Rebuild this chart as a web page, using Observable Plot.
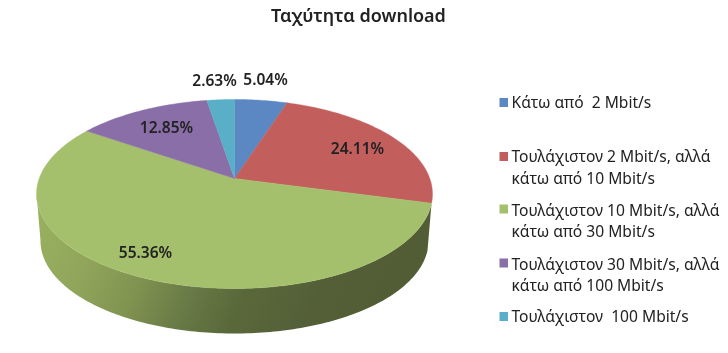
<!DOCTYPE html>
<html>
<head>
<meta charset="utf-8">
<script src="https://cdn.jsdelivr.net/npm/d3@7"></script>
<script src="https://cdn.jsdelivr.net/npm/@observablehq/plot@0.6"></script>
<style>html,body{margin:0;padding:0;background:#fff}svg{display:block}</style>
</head>
<body>
<div id="chart"></div>
<script>
const categories = ["Κάτω από  2 Mbit/s","Τουλάχιστον 2 Mbit/s, αλλά\nκάτω από 10 Mbit/s","Τουλάχιστον 10 Mbit/s, αλλά\nκάτω από 30 Mbit/s","Τουλάχιστον 30 Mbit/s, αλλά\nκάτω από 100 Mbit/s","Τουλάχιστον  100 Mbit/s"];
const values = [5.04, 24.11, 55.36, 12.85, 2.63];
const valueLabels = ["5.04%","24.11%","55.36%","12.85%","2.63%"];
const colors = ["#5b87c2","#c25f5d","#a5c06c","#8a6ea8","#58afc7"];
const labelX = [265, 357, 145, 166, 214];
const labelY = [80, 149, 253, 128, 81];
const legendY = [101, 165.5, 219, 273, 315];
const swatchY = [102.5, 156.5, 209, 263, 316.5];

// perspective-tilted disc
const cx = 234, cy = 178, A = 195.3, B = 92, K = 0.164;
const wallDrop = 47.2, wallScale = 0.98;
const pt = (deg, s = 1, drop = 0) => {
  const t = deg * Math.PI / 180, u = Math.sin(t), v = Math.cos(t), w = 1 + K * v;
  return {x: cx + s * A * u / w, y: cy + drop - s * B * v / w};
};
const total = d3.sum(values);
let acc = 0;
const slices = [];
values.forEach((val, i) => {
  const a0 = acc / total * 360; acc += val; const a1 = acc / total * 360;
  slices.push({x: cx, y: cy, cat: categories[i]});
  const n = Math.max(2, Math.ceil(a1 - a0));
  for (let j = 0; j <= n; j++) slices.push({...pt(a0 + (a1 - a0) * j / n), cat: categories[i]});
  slices.push({x: cx, y: cy, cat: categories[i]});
});
// front wall of the big slice
const wall = [];
const wa0 = values[0] / total * 360 + values[1] / total * 360, wa1 = 261;
for (let a = wa0; a <= wa1; a += 1) wall.push(pt(a));
for (let a = wa1; a >= wa0; a -= 1) wall.push(pt(a, wallScale, wallDrop));

const defs = () => {
  const d = d3.create("svg:defs");
  const g = d.append("linearGradient").attr("id", "wallGrad").attr("x1", 0).attr("y1", 0).attr("x2", 1).attr("y2", 0.15);
  [[0, "#9ab160"], [0.2, "#90a55a"], [0.35, "#7f9250"], [0.5, "#667845"], [0.62, "#596839"], [0.8, "#545f38"], [1, "#525d36"]]
    .forEach(([o, c]) => g.append("stop").attr("offset", o).attr("stop-color", c));
  return d.node();
};

const font = "'Noto Sans', sans-serif";
const legend = categories.map((c, i) => ({c, y: legendY[i], sy: swatchY[i]}));
const chart = Plot.plot({
  width: 728, height: 353, margin: 0,
  x: {domain: [0, 728], range: [0, 728], axis: null},
  y: {domain: [0, 353], range: [0, 353], axis: null},
  color: {domain: categories, range: colors},
  style: {background: "#fff", filter: "blur(0.35px)"},
  marks: [
    defs,
    Plot.line(wall, {x: "x", y: "y", fill: "url(#wallGrad)", stroke: "none"}),
    Plot.line(slices, {x: "x", y: "y", z: "cat", fill: "cat", stroke: "cat", strokeWidth: 0.4}),
    Plot.text(["Ταχύτητα download"], {x: () => 358, y: () => 16, text: d => d, fontFamily: font, fontSize: 18, fontWeight: 600, fill: "#222"}),
    Plot.text(valueLabels, {x: (d, i) => labelX[i], y: (d, i) => labelY[i], text: d => d, fontFamily: font, fontSize: 15.5, fontWeight: 600, fill: "#222"}),
    Plot.rect(legend, {x1: () => 499.5, x2: () => 508, y1: d => d.sy - 4.5, y2: d => d.sy + 4.5, fill: "c"}),
    Plot.text(legend, {x: () => 511, y: "y", text: "c", textAnchor: "start", lineHeight: 1.38, fontFamily: font, fontSize: 15.6, fill: "#222"})
  ]
});
document.getElementById("chart").append(chart);
</script>
</body>
</html>
